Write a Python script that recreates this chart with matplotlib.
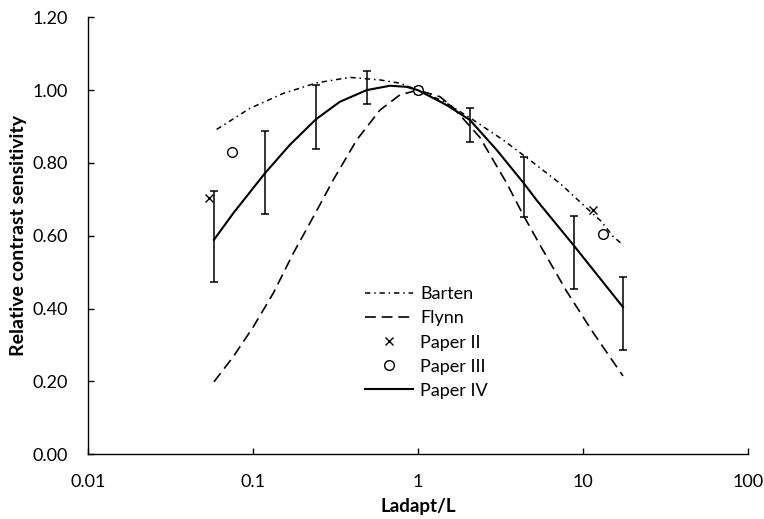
import matplotlib
matplotlib.use("Agg")
import matplotlib.pyplot as plt
from matplotlib.ticker import FixedLocator, FixedFormatter, NullLocator

plt.rcParams['font.family'] = ['Lato', 'DejaVu Sans']

# ---- data ----
barten_x = [0.0604, 0.0962, 0.153, 0.244, 0.388, 0.589, 0.779, 1.0, 1.45, 2.166,
            3.29, 4.77, 7.26, 10.04, 12.97, 15.25, 17.5]
barten_y = [0.892, 0.950, 0.991, 1.020, 1.035, 1.028, 1.019, 1.0, 0.968, 0.918,
            0.863, 0.808, 0.744, 0.685, 0.639, 0.598, 0.575]

flynn_x = [0.0582, 0.0762, 0.1007, 0.133, 0.176, 0.207, 0.255, 0.307, 0.426, 0.589,
           0.779, 1.0, 1.36, 1.639, 2.377, 3.45, 4.35, 5.49, 7.96, 11.5, 17.5]
flynn_y = [0.199, 0.268, 0.350, 0.442, 0.552, 0.610, 0.685, 0.753, 0.863, 0.945,
           0.987, 1.0, 0.982, 0.952, 0.870, 0.745, 0.657, 0.575, 0.448, 0.335, 0.215]

paper2_x = [0.0545, 1.0, 11.45]
paper2_y = [0.703, 1.0, 0.671]

paper3_x = [0.0751, 1.0, 13.15]
paper3_y = [0.831, 1.0, 0.606]

paper4_x = [0.0582, 0.0762, 0.1186, 0.168, 0.2415, 0.337, 0.490, 0.678, 0.855, 1.0,
            1.494, 2.068, 3.0, 4.39, 5.24, 8.82, 12.7, 17.5]
paper4_y = [0.589, 0.662, 0.772, 0.850, 0.920, 0.968, 1.000, 1.012, 1.009, 1.0,
            0.959, 0.918, 0.836, 0.744, 0.698, 0.573, 0.483, 0.404]

err_x = [0.0582, 0.1186, 0.2415, 0.494, 2.068, 4.39, 8.82, 17.5]
err_mean = [0.598, 0.774, 0.925, 1.007, 0.904, 0.734, 0.553, 0.386]
err_half = [0.124, 0.113, 0.088, 0.046, 0.046, 0.082, 0.100, 0.100]

x_ticks = [0.01, 0.1, 1, 10, 100]
x_tick_labels = ["0.01", "0.1", "1", "10", "100"]
y_ticks = [0.0, 0.2, 0.4, 0.6, 0.8, 1.0, 1.2]

# ---- figure ----
fig = plt.figure(figsize=(7.64, 5.19), dpi=100)
ax = fig.add_axes([0.1148, 0.1247, 0.8642, 0.842])

ax.plot(barten_x, barten_y, color='black', lw=1.1, dashes=(3.5, 2.5, 1.0, 2.5), label='Barten')
ax.plot(flynn_x, flynn_y, color='black', lw=1.2, dashes=(6.5, 3.5), label='Flynn')
ax.plot(paper2_x, paper2_y, ls='none', marker='x', ms=6, mew=1.0, color='black', label='Paper II')
ax.plot(paper3_x, paper3_y, ls='none', marker='o', ms=7, mew=1.0, mfc='white', mec='black', label='Paper III')
ax.plot(paper4_x, paper4_y, color='black', lw=1.5, label='Paper IV')
ax.errorbar(err_x, err_mean, yerr=err_half, fmt='none', ecolor='black', elinewidth=1.1,
            capsize=3.2, capthick=1.1)

ax.set_xscale('log')
ax.set_xlim(0.01, 100)
ax.set_ylim(0, 1.2)
ax.xaxis.set_major_locator(FixedLocator(x_ticks))
ax.xaxis.set_major_formatter(FixedFormatter(x_tick_labels))
ax.xaxis.set_minor_locator(NullLocator())
ax.set_yticks(y_ticks)
ax.set_yticklabels([f"{v:.2f}" for v in y_ticks])

for s in ['top', 'right']:
    ax.spines[s].set_visible(False)
for s in ['left', 'bottom']:
    ax.spines[s].set_linewidth(1.0)
    ax.spines[s].set_color('black')

ax.tick_params(axis='both', which='major', direction='in', length=4, width=1.0,
               labelsize=13, pad=14, colors='black')

ax.set_xlabel('Ladapt/L', fontsize=13.5, fontweight='bold', labelpad=6)
ax.set_ylabel('Relative contrast sensitivity', fontsize=14, fontweight='bold', labelpad=4)

leg = ax.legend(loc='upper left', bbox_to_anchor=(0.409, 0.401), frameon=False,
                fontsize=13, handlelength=2.66, handletextpad=0.39, labelspacing=0.45,
                borderaxespad=0)

fig.savefig('out.png', dpi=100)
